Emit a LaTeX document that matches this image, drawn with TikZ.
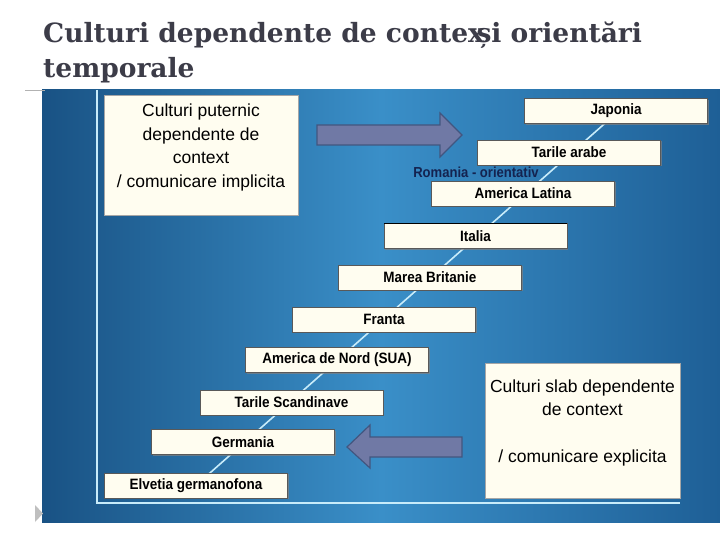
\documentclass[tikz,border=0pt]{standalone}
\usepackage{fontspec}
\setmainfont{Liberation Sans}
\newfontfamily\titlufont{DejaVu Serif}
\newfontfamily\ingustfont[FakeStretch=0.9]{Liberation Sans}
\usetikzlibrary{shadows}

\definecolor{panouStanga}{RGB}{25,82,132}
\definecolor{panouMijloc}{RGB}{58,143,200}
\definecolor{panouDreapta}{RGB}{30,95,150}
\definecolor{crem}{RGB}{255,253,240}
\definecolor{sageata}{RGB}{112,121,165}
\definecolor{sageataMargine}{RGB}{66,86,128}
\definecolor{linieDeschisa}{RGB}{200,236,250}
\definecolor{bleumarin}{RGB}{20,35,80}
\definecolor{titlu}{RGB}{60,60,72}

\tikzset{
  tara/.style={draw=black!65, fill=crem, minimum width=183pt, minimum height=25pt,
    inner sep=0pt, font=\ingustfont\bfseries\fontsize{15}{17}\selectfont,
    drop shadow={shadow xshift=1.2pt, shadow yshift=-1.2pt, fill=black!50, opacity=0.7}},
  caseta/.style={draw=black!35, fill=crem, align=center, inner sep=0pt,
    font=\fontsize{17.5}{23.5}\selectfont,
    drop shadow={shadow xshift=1.2pt, shadow yshift=-1.2pt, fill=black!50, opacity=0.6}},
  titlurand/.style={anchor=base west, inner sep=0pt, text=titlu,
    font=\titlufont\bfseries\fontsize{26.5}{30}\selectfont},
  sageatamare/.style={fill=sageata, draw=sageataMargine, line width=1.2pt, line join=miter}
}

\begin{document}
\begin{tikzpicture}[x=1pt, y=-1pt]
  \useasboundingbox (0,0) rectangle (720,540);
  \fill[white] (0,0) rectangle (720,540);

  % titlu
  \node[titlurand] (titlu1) at (43,43) {Culturi dependente de contex\kern-0.28em și orientări};
  \node[titlurand] (titlu2) at (43,78) {temporale};

  % panoul albastru
  \shade[left color=panouStanga, right color=panouDreapta, middle color=panouMijloc]
    (42,90) rectangle (720,522);
  \draw[black!30, line width=0.8pt] (25,90) -- (45,90);
  \fill[black!25] (35,505) -- (43,513.5) -- (35,522) -- cycle;
  \draw[linieDeschisa, line width=2.2pt] (97,90) -- (97,503) -- (680,503);

  % linia diagonala
  \coordinate (jos) at (202,480);
  \coordinate (sus) at (611,118);
  \draw[linieDeschisa, line width=1.6pt] (jos) -- (sus);

  % tarile
  \foreach \nume/\cx/\cy/\eticheta in {
      jap/616/111/Japonia, arabe/569/152.5/Tarile arabe, latina/523/193.5/America Latina,
      ita/475.5/236/Italia, brit/430/277.5/Marea Britanie, fra/384/319.5/Franta,
      nord/337/360/America de Nord (SUA), scand/291.5/402.5/Tarile Scandinave,
      ger/243/442/Germania, elv/196/485.5/Elvetia germanofona} {
    \node[tara] (\nume) at (\cx,\cy) {\eticheta};
  }
  \draw[black, line width=1.5pt] (ita.north west) -- (ita.north east);

  \node[text=bleumarin, font=\ingustfont\bfseries\fontsize{14.5}{16}\selectfont, inner sep=0pt]
    (romania) at (476,172) {Romania - orientativ};

  % casetele mari
  \node[caseta, minimum width=194pt, minimum height=120pt] (puternic) at (201,155)
    {Culturi puternic\\dependente de\\context\\/ comunicare implicita\\[-12pt]\strut};
  \node[caseta, minimum width=195pt, minimum height=135pt] (slab) at (582.5,430.5)
    {Culturi slab dependente\\de context\\\strut\\/ comunicare explicita\\[-12pt]\strut};

  % sagetile mari
  \draw[sageatamare] (317,125) -- (440,125) -- (440,113) -- (462,135) -- (440,157)
    -- (440,145) -- (317,145) -- cycle;
  \draw[sageatamare] (462,437) -- (370,437) -- (370,425) -- (347,447) -- (370,468)
    -- (370,457) -- (462,457) -- cycle;
\end{tikzpicture}
\end{document}
